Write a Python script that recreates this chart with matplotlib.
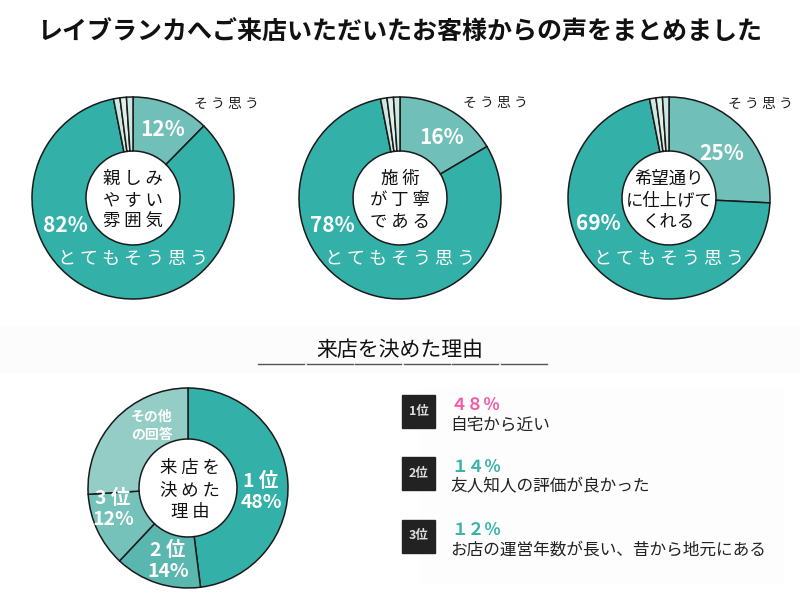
import matplotlib
matplotlib.use("Agg")
import matplotlib.pyplot as plt
from matplotlib.patches import Rectangle

plt.rcParams['font.family'] = ['Noto Sans CJK JP', 'DejaVu Sans']

# data
title = "レイブランカへご来店いただいたお客様からの声をまとめました"
survey_names = ["親しみ\nやすい\n雰囲気", "施術\nが丁寧\nである", "希望通り\nに仕上げて\nくれる"]
soo_omou = [12, 16, 25]          # そう思う
totemo_soo_omou = [82, 78, 69]   # とてもそう思う
others = [[1, 1, 1], [1, 1, 1], [1, 1, 1]]

reason_title = "来店を決めた理由"
reason_labels = ["1位", "2位", "3位", "その他\nの回答"]
reason_values = [48, 14, 12, 26]
reason_texts = ["自宅から近い", "友人知人の評価が良かった", "お店の運営年数が長い、昔から地元にある"]

H = 600
def Y(y):
    return H - y

fig = plt.figure(figsize=(8, 6), dpi=100)
ax = fig.add_axes([0, 0, 1, 1])

teal = "#33b0a8"
light = "#70bfb8"
pale = ["#cde8e1", "#dff0eb", "#cde8e1"]

# faint background panels
ax.add_patch(Rectangle((0, Y(372)), 800, 46, color="#fcfcfc", zorder=0))
ax.add_patch(Rectangle((420, Y(582)), 362, 192, color="#fdfdfd", zorder=0))

ax.text(400, Y(33), title, ha="center", va="center", fontsize=18, fontweight="bold", color="#111")

centers = [(133, 198), (400, 198), (669, 198)]
pct_pos = [(163, 130), (442, 138), (722, 153)]
big_pos = [(65, 225), (332, 225), (598, 223)]
so_pos = [(226, 104), (495, 103), (760, 104)]
center_spaced = [True, True, False]

for i in range(3):
    cx, cy = centers[i]
    vals = [soo_omou[i], totemo_soo_omou[i]] + others[i]
    cols = [light, teal] + pale
    ax.pie(vals, colors=cols, center=(cx, Y(cy)), radius=101, startangle=90,
           counterclock=False, frame=True,
           wedgeprops=dict(width=54, edgecolor="#1a1a1a", linewidth=1.1))
    ax.text(pct_pos[i][0], Y(pct_pos[i][1]), f"{soo_omou[i]}%", ha="center", va="center",
            fontsize=15, fontweight="bold", color="white")
    ax.text(big_pos[i][0], Y(big_pos[i][1]), f"{totemo_soo_omou[i]}%", ha="center", va="center",
            fontsize=15, fontweight="bold", color="white")
    ax.text(so_pos[i][0], Y(so_pos[i][1]), " ".join("そう思う"), ha="center", va="center",
            fontsize=10, color="#222")
    ax.text(cx, Y(259), " ".join("とてもそう思う"), ha="center", va="center",
            fontsize=13, color="white")
    name = survey_names[i]
    if center_spaced[i]:
        name = "\n".join(" ".join(line) for line in name.split("\n"))
    ax.text(cx, Y(200), name, ha="center", va="center", fontsize=12.5,
            color="#111", linespacing=1.25)

# section title and underline
ax.text(400, Y(350), reason_title, ha="center", va="center", fontsize=15, color="#111")
seg_w = 46
for k in range(6):
    x0 = 258 + k * (seg_w + 2.5)
    ax.plot([x0, x0 + seg_w], [Y(364), Y(364)], color="#555", lw=1)

# reasons donut
rcx, rcy = 188, 488
reason_colors = ["#33b0a8", "#5ab7af", "#75c2bb", "#93cdc6"]
ax.pie(reason_values, colors=reason_colors, center=(rcx, Y(rcy)), radius=100, startangle=90,
       counterclock=False, frame=True,
       wedgeprops=dict(width=51, edgecolor="#1a1a1a", linewidth=1.1))
ax.text(rcx + 2, Y(490), "\n".join(" ".join(l) for l in "来店を\n決めた\n理由".split("\n")),
        ha="center", va="center", fontsize=12.5, color="#111", linespacing=1.25)

label_pos = [(261, 492), (168, 561), (113, 509), (152, 426)]
for j in range(3):
    lx, ly = label_pos[j]
    ax.text(lx, Y(ly), f"{reason_labels[j][0]} {reason_labels[j][1]}\n{reason_values[j]}%",
            ha="center", va="center", fontsize=14, fontweight="bold", color="white", linespacing=1.15)
ax.text(label_pos[3][0], Y(label_pos[3][1]), reason_labels[3], ha="center", va="center",
        fontsize=10, fontweight="bold", color="white", linespacing=1.4)

# ranking list
pct_colors = ["#f35ba6", "#39b3aa", "#39b3aa"]
full = str.maketrans("0123456789%", "０１２３４５６７８９％")
box_y = [411, 473, 536]
for j in range(3):
    by = box_y[j]
    ax.add_patch(Rectangle((402, Y(by + 16.5)), 33, 33, color="#222", zorder=2))
    ax.text(418.5, Y(by), reason_labels[j], ha="center", va="center", fontsize=9,
            fontweight="bold", color="#ddd", zorder=3)
    ax.text(451, Y(by - 6), f"{reason_values[j]}%".translate(full), ha="left", va="center",
            fontsize=12, fontweight="bold", color=pct_colors[j])
    ax.text(450, Y(by + 14), reason_texts[j], ha="left", va="center", fontsize=12, color="#222")

ax.set_xlim(0, 800)
ax.set_ylim(0, 600)
ax.set_aspect("equal")
ax.axis("off")

fig.savefig("out.png", dpi=100)
